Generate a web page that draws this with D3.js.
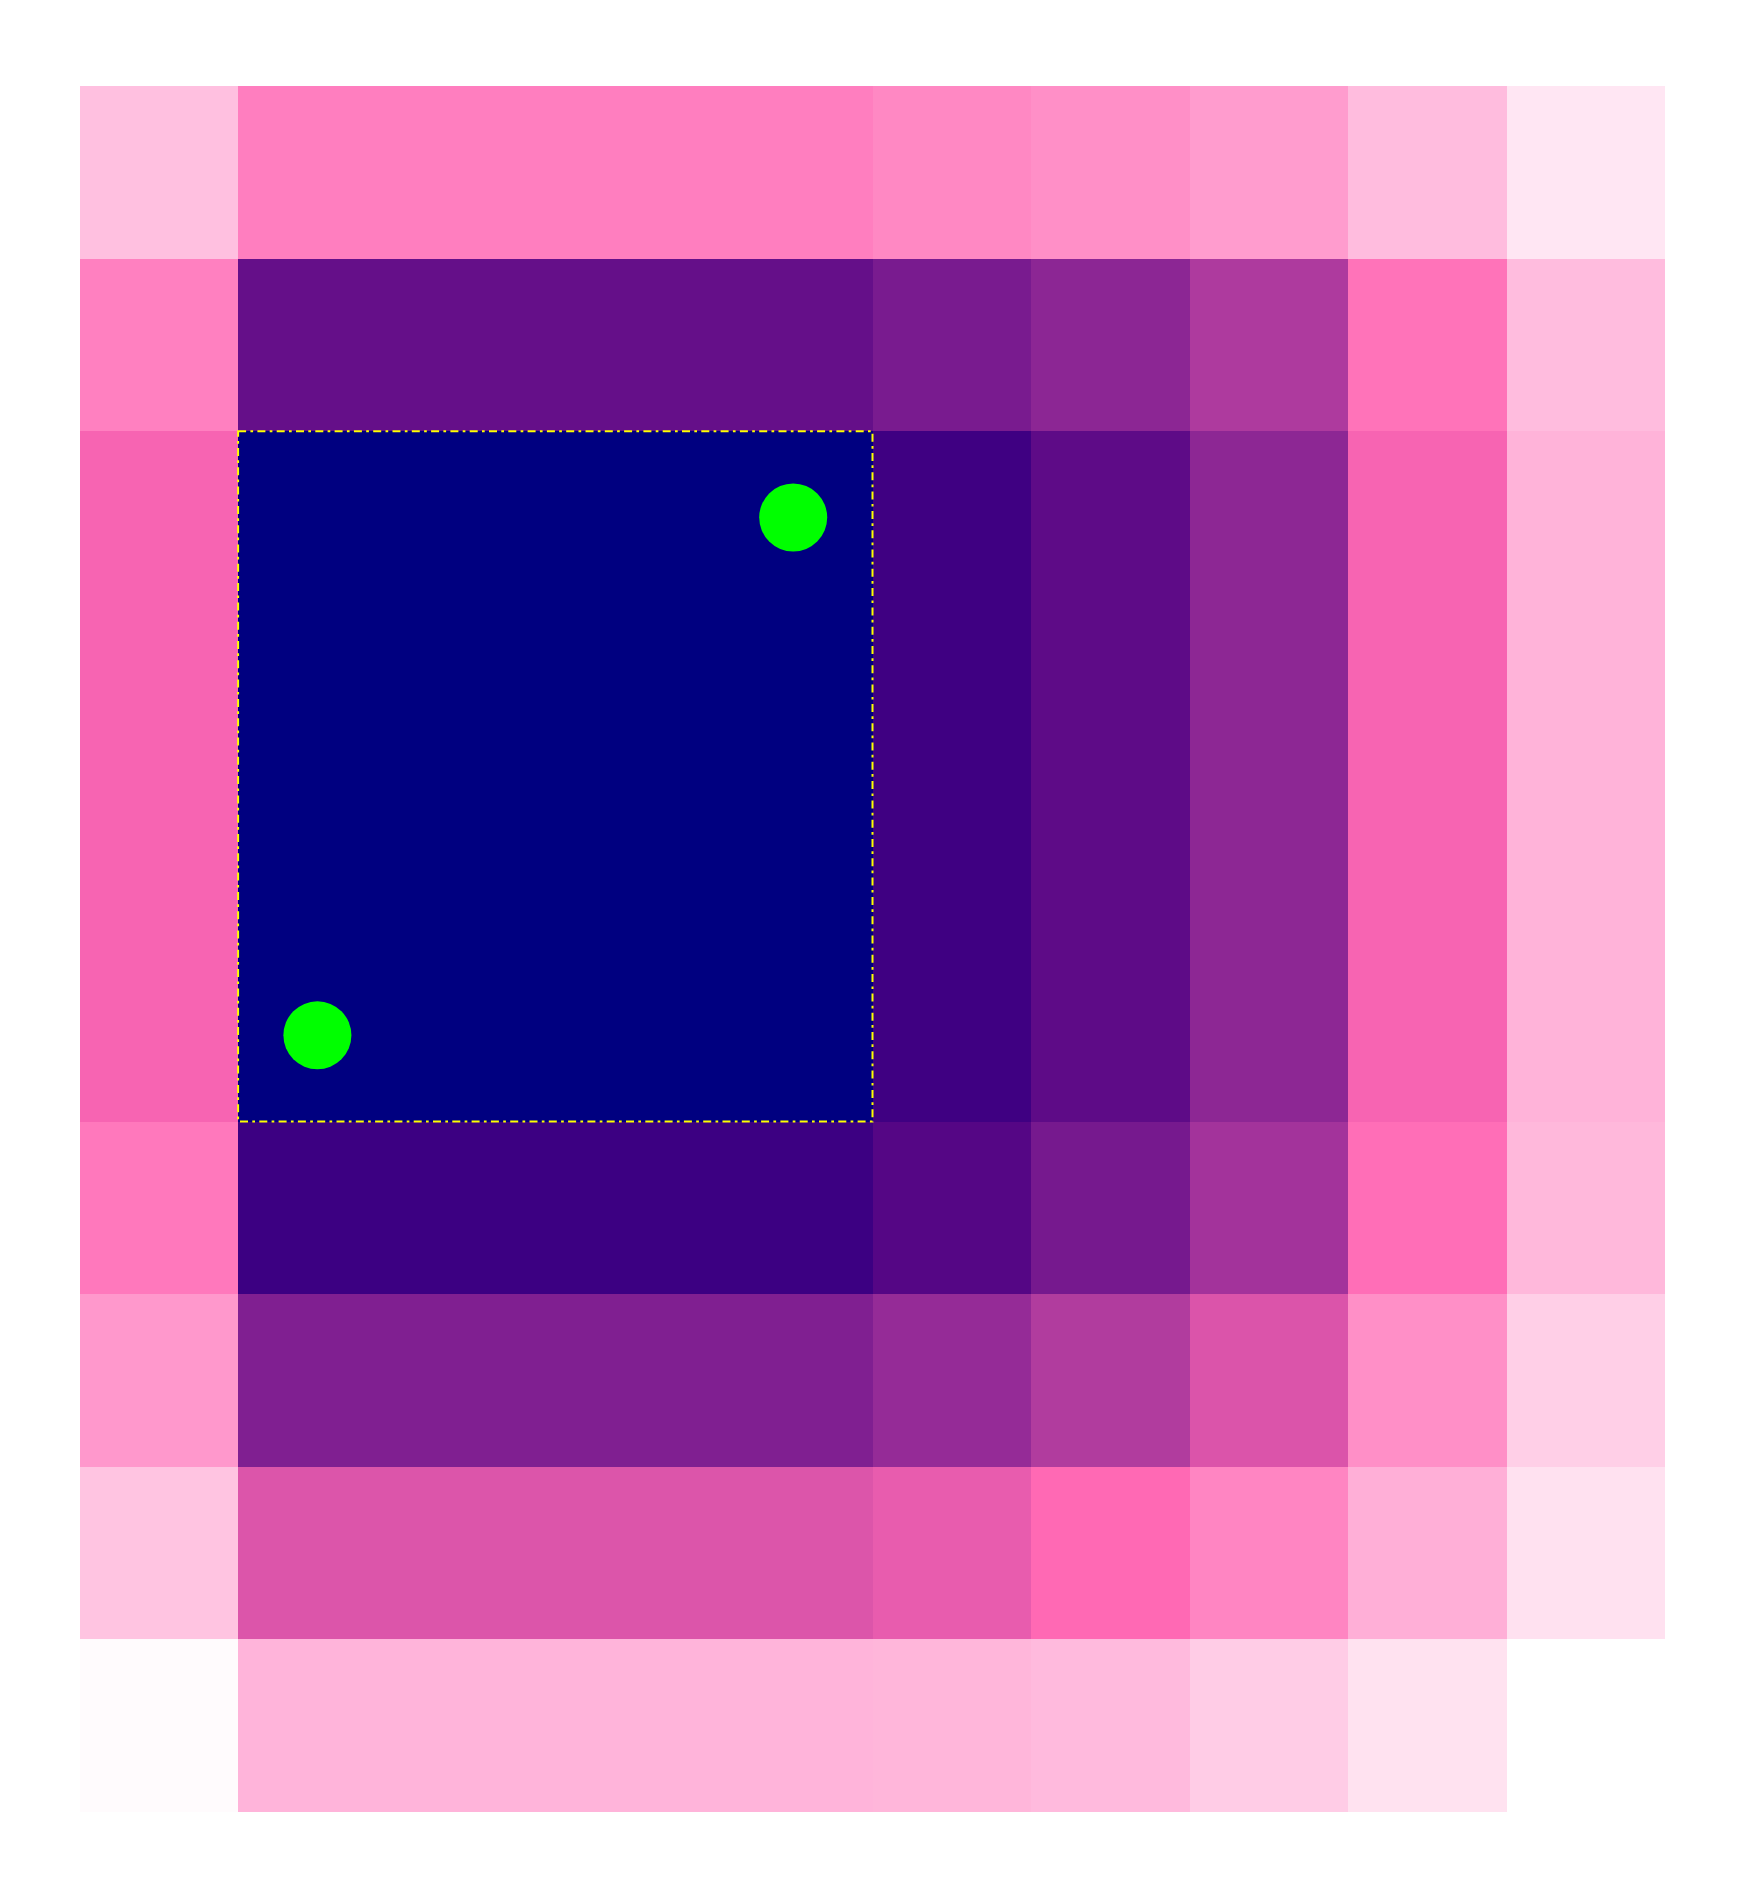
<!DOCTYPE html>
<html>
<head>
<meta charset="utf-8">
<script src="https://cdn.jsdelivr.net/npm/d3@7"></script>
<style>
  html, body { margin: 0; padding: 0; background: #ffffff; }
  svg { display: block; }
</style>
</head>
<body>
<div id="chart"></div>
<script>
// ---- data ----
const colKeys = [0, 1, 2, 3, 4, 5, 6, 7, 8, 9];
const rowKeys = [0, 1, 2, 3, 4, 5, 6, 7, 8, 9];
const values = [
  [0.210, 0.430, 0.430, 0.430, 0.430, 0.397, 0.375, 0.330, 0.223, 0.083],
  [0.423, 0.842, 0.842, 0.842, 0.842, 0.798, 0.756, 0.680, 0.467, 0.223],
  [0.518, 1.000, 1.000, 1.000, 1.000, 0.916, 0.858, 0.753, 0.518, 0.253],
  [0.518, 1.000, 1.000, 1.000, 1.000, 0.916, 0.858, 0.753, 0.518, 0.253],
  [0.518, 1.000, 1.000, 1.000, 1.000, 0.916, 0.858, 0.753, 0.518, 0.253],
  [0.518, 1.000, 1.000, 1.000, 1.000, 0.916, 0.858, 0.753, 0.518, 0.253],
  [0.450, 0.920, 0.920, 0.920, 0.920, 0.878, 0.804, 0.704, 0.483, 0.237],
  [0.343, 0.782, 0.782, 0.782, 0.782, 0.736, 0.673, 0.580, 0.372, 0.160],
  [0.197, 0.578, 0.578, 0.578, 0.578, 0.551, 0.500, 0.407, 0.267, 0.100],
  [0.012, 0.250, 0.250, 0.250, 0.250, 0.245, 0.230, 0.170, 0.097, 0.000]
];
const colorStops = [0, 0.5, 0.9, 1];
const colorRange = ["#ffffff", "#ff69b4", "#4b0082", "#000080"];
// highlighted block: columns 1..4, rows 2..5
const highlightCols = [1, 4];
const highlightRows = [2, 5];
// marker cells [col, row]
const markers = [[4, 2], [1, 5]];

// ---- layout ----
const W = 1745, H = 1899;
const svg = d3.select("#chart").append("svg")
  .attr("width", W).attr("height", H);

const x = d3.scaleBand().domain(colKeys).range([79.5, 1665.5]).padding(0);
const y = d3.scaleBand().domain(rowKeys).range([86, 1812]).padding(0);
const color = d3.scaleLinear().domain(colorStops).range(colorRange)
  .interpolate(d3.interpolateRgb);

const cells = [];
values.forEach((row, r) => row.forEach((v, c) => cells.push({ r, c, v })));

svg.append("g").attr("shape-rendering", "crispEdges")
  .selectAll("rect").data(cells).join("rect")
  .attr("x", d => Math.round(x(d.c)))
  .attr("y", d => Math.round(y(d.r)))
  .attr("width", d => Math.round(x(d.c) + x.bandwidth()) - Math.round(x(d.c)))
  .attr("height", d => Math.round(y(d.r) + y.bandwidth()) - Math.round(y(d.r)))
  .attr("fill", d => color(d.v));

svg.append("rect")
  .attr("x", x(highlightCols[0]))
  .attr("y", y(highlightRows[0]))
  .attr("width", x(highlightCols[1]) + x.bandwidth() - x(highlightCols[0]))
  .attr("height", y(highlightRows[1]) + y.bandwidth() - y(highlightRows[0]))
  .attr("fill", "none")
  .attr("stroke", "#ffff00")
  .attr("stroke-width", 2)
  .attr("stroke-dasharray", "8,4.3,2.7,4.3");

svg.append("g").selectAll("circle").data(markers).join("circle")
  .attr("cx", d => x(d[0]) + x.bandwidth() / 2)
  .attr("cy", d => y(d[1]) + y.bandwidth() / 2)
  .attr("r", 34)
  .attr("fill", "#00ff00");
</script>
</body>
</html>
